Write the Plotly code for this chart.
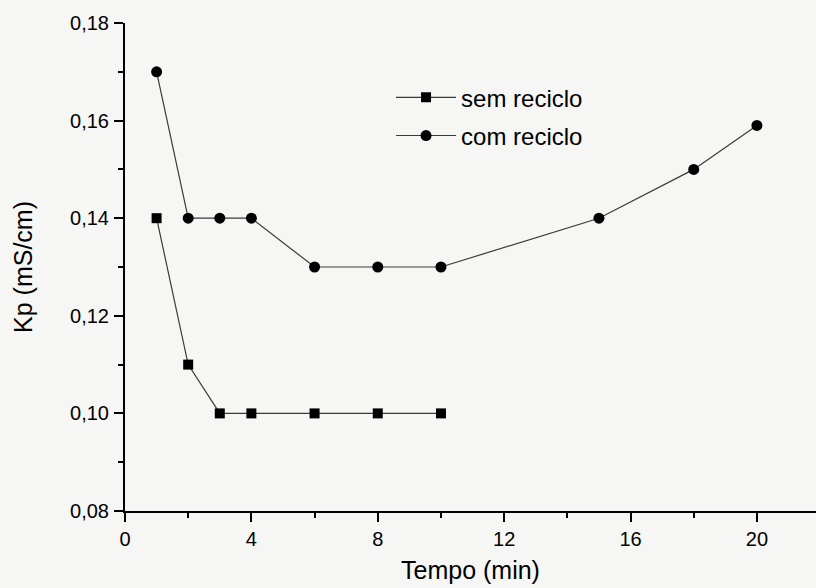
import plotly.graph_objects as go

# Conductivity Kp (mS/cm) over time, without and with recycling
tempo_sem = [1, 2, 3, 4, 6, 8, 10]
kp_sem = [0.14, 0.11, 0.10, 0.10, 0.10, 0.10, 0.10]

tempo_com = [1, 2, 3, 4, 6, 8, 10, 15, 18, 20]
kp_com = [0.17, 0.14, 0.14, 0.14, 0.13, 0.13, 0.13, 0.14, 0.15, 0.159]

x_ticks = [0, 4, 8, 12, 16, 20]
y_ticks = [0.08, 0.10, 0.12, 0.14, 0.16, 0.18]

FONT = "Arial"
LINE = "#3a3a3a"

fig = go.Figure()
fig.add_trace(go.Scatter(
    x=tempo_sem, y=kp_sem, name="sem reciclo", mode="lines+markers",
    legendgroup="a",
    line=dict(color=LINE, width=1.2),
    marker=dict(symbol="square", size=10, color="black"),
))
fig.add_trace(go.Scatter(
    x=tempo_com, y=kp_com, name="com reciclo", mode="lines+markers",
    legendgroup="b",
    line=dict(color=LINE, width=1.2),
    marker=dict(symbol="circle", size=11, color="black"),
))

axis_common = dict(
    showgrid=False, zeroline=False, showline=True, linecolor="black", linewidth=2,
    ticks="outside", ticklen=9, tickwidth=1.8, tickcolor="black",
    tickfont=dict(family=FONT, size=20, color="black"),
    minor=dict(ticks="outside", ticklen=5, tickwidth=1.8, tickcolor="black"),
)

fig.update_xaxes(
    range=[0, 21.87], tickvals=x_ticks, ticktext=[str(v) for v in x_ticks],
    ticklabelstandoff=0,
    title=dict(text="Tempo (min)", font=dict(family=FONT, size=25, color="black"), standoff=12),
    **axis_common,
)
fig.update_yaxes(
    range=[0.08, 0.18], tickvals=y_ticks, tickformat=".2f",
    ticklabelstandoff=1,
    title=dict(text="Kp (mS/cm)", font=dict(family=FONT, size=25, color="black"), standoff=30),
    **axis_common,
)
fig.update_xaxes(minor=dict(tickvals=[2, 6, 10, 14, 18]))
fig.update_yaxes(minor=dict(tickvals=[0.09, 0.11, 0.13, 0.15, 0.17]))

fig.update_layout(
    width=816, height=588,
    margin=dict(l=125, r=0, t=23, b=77),
    paper_bgcolor="#f6f6f4", plot_bgcolor="#f6f6f4",
    separators=",.",
    showlegend=True,
    legend=dict(
        x=0.385, y=0.893, xanchor="left", yanchor="top",
        bgcolor="rgba(0,0,0,0)", font=dict(family=FONT, size=24, color="black"),
        itemwidth=60, tracegroupgap=4,
    ),
)

fig.write_html("out.html")
